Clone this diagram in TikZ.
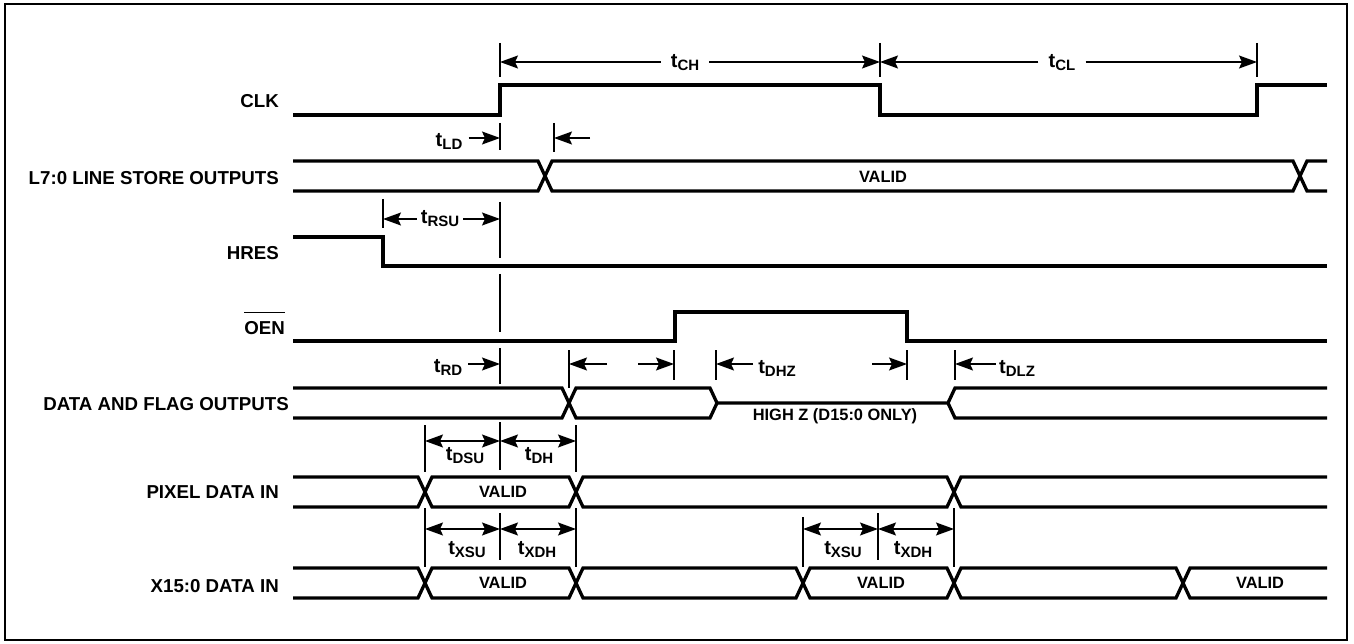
\documentclass[tikz,border=0pt]{standalone}
\usepackage{fontspec}
\setmainfont{Liberation Sans}
\usetikzlibrary{arrows.meta,positioning,calc}

\newcommand\tsub[1]{t\raisebox{-3pt}{\fontsize{15}{16}\selectfont #1}}
\newcommand\barsig[1]{\setbox0\hbox{#1}\rlap{\rule[\dimexpr\ht0+8pt\relax]{\wd0}{1.3pt}}\box0}

\begin{document}
\begin{tikzpicture}[x=1pt, y=-1pt,
    sig/.style={line width=3.3pt},
    guide/.style={line width=1.2pt},
    dimarr/.style={line width=1.3pt, -{Stealth[length=18pt, width=13pt, inset=3pt]}},
    dimboth/.style={line width=1.3pt, {Stealth[length=18pt, width=13pt, inset=3pt]}-{Stealth[length=18pt, width=13pt, inset=3pt]}},
    signame/.style={font=\fontsize{18.7}{20}\selectfont\bfseries, anchor=base east, inner sep=0pt},
    tlbl/.style={font=\fontsize{20}{22}\selectfont\bfseries, anchor=base, inner xsep=5pt, inner ysep=0pt},
    validtxt/.style={font=\fontsize{16.4}{18}\selectfont\bfseries, inner sep=0pt},
  ]
  \useasboundingbox (0,0) rectangle (1354,644);
  % frame
  \draw[line width=2.8pt] (5,4) rectangle (1347,640);

  % signal names
  \node[signame] (clk) at (279,108) {CLK};
  \node[signame] (lso) at (279,185) {L7:0 LINE STORE OUTPUTS};
  \node[signame] (hres) at (279,260) {HRES};
  \node[signame] (oen) at (285,334) {\barsig{OEN}};
  \node[signame] (dfo) at (289,410) {DATA AND FLAG OUTPUTS};
  \node[signame] (pix) at (279,498) {PIXEL DATA IN};
  \node[signame] (xin) at (279,592) {X15:0 DATA IN};

  % waveforms
  \draw[sig] (293,115) -- (500,115) -- (500,85) -- (880,85) -- (880,115) -- (1257,115) -- (1257,85) -- (1327,85);
  \draw[sig] (293,161) -- (538,161) -- (552,191) -- (1293,191) -- (1307,161) -- (1327,161);
  \draw[sig] (293,191) -- (538,191) -- (552,161) -- (1293,161) -- (1307,191) -- (1327,191);
  \draw[sig] (293,237) -- (383,237) -- (383,266) -- (1327,266);
  \draw[sig] (293,341) -- (675,341) -- (675,312) -- (907,312) -- (907,341) -- (1327,341);
  \draw[sig] (293,388) -- (562,388) -- (576,418) -- (710,418) -- (717,403) -- (948,403) -- (955,388) -- (1327,388);
  \draw[sig] (293,418) -- (562,418) -- (576,388) -- (710,388) -- (717,403);
  \draw[sig] (948,403) -- (955,418) -- (1327,418);
  \draw[sig] (293,477) -- (418,477) -- (432,507) -- (569,507) -- (583,477) -- (947,477) -- (961,507) -- (1327,507);
  \draw[sig] (293,507) -- (418,507) -- (432,477) -- (569,477) -- (583,507) -- (947,507) -- (961,477) -- (1327,477);
  \draw[sig] (293,568) -- (418,568) -- (432,598) -- (569,598) -- (583,568) -- (796,568) -- (810,598) -- (947,598) -- (961,568) -- (1176,568) -- (1190,598) -- (1327,598);
  \draw[sig] (293,598) -- (418,598) -- (432,568) -- (569,568) -- (583,598) -- (796,598) -- (810,568) -- (947,568) -- (961,598) -- (1176,598) -- (1190,568) -- (1327,568);

  % bus texts
  \node[validtxt] (v1) at (883,177) {VALID};
  \node[validtxt] (hiz) at (835,416) {HIGH Z (D15:0 ONLY)};
  \node[validtxt] (v2) at (503,492) {VALID};
  \node[validtxt] (v3) at (503,583) {VALID};
  \node[validtxt] (v4) at (881,583) {VALID};
  \node[validtxt] (v5) at (1260,583) {VALID};

  % clock high / low
  \foreach \x in {500,880,1257} \draw[guide] (\x,43) -- (\x,77);
  \coordinate (ch1) at (500,62);
  \coordinate (ch2) at (880,62);
  \coordinate (cl2) at (1257,62);
  \node[tlbl, inner xsep=10pt] (tch) at (685,68) {\tsub{CH}};
  \node[tlbl, inner xsep=10pt] (tcl) at (1062,68) {\tsub{CL}};
  \draw[dimarr] (tch.west |- ch1) -- (ch1);
  \draw[dimarr] (tch.east |- ch1) -- (ch2);
  \draw[dimarr] (tcl.west |- ch1) -- (ch2);
  \draw[dimarr] (tcl.east |- ch1) -- (cl2);

  % line store delay
  \draw[guide] (500,123) -- (500,150);
  \draw[guide] (554,123) -- (554,152);
  \coordinate (ld1) at (500,138);
  \coordinate (ld2) at (554,138);
  \coordinate (ld3) at (590,138);
  \node[tlbl, inner xsep=6pt] (tld) at (449,147) {\tsub{LD}};
  \draw[dimarr] (tld.east |- ld1) -- (ld1);
  \draw[dimarr] (ld3) -- (ld2);

  % hres setup
  \draw[guide] (383,199) -- (383,228);
  \draw[guide] (500,202) -- (500,258);
  \draw[guide] (500,274) -- (500,332);
  \coordinate (rs1) at (383,219);
  \coordinate (rs2) at (500,219);
  \node[tlbl, inner xsep=4pt] (trsu) at (440,224) {\tsub{RSU}};
  \draw[dimarr] (trsu.west |- rs1) -- (rs1);
  \draw[dimarr] (trsu.east |- rs1) -- (rs2);

  % output delays
  \draw[guide] (500,348) -- (500,384);
  \draw[guide] (569,350) -- (569,388);
  \foreach \x in {674,716,907,955} \draw[guide] (\x,350) -- (\x,380);
  \coordinate (rd1) at (500,364);
  \coordinate (oz1) at (569,364);
  \coordinate (oz1s) at (607,364);
  \coordinate (oz2) at (674,364);
  \coordinate (oz2s) at (638,364);
  \coordinate (hz1) at (716,364);
  \coordinate (hz2) at (907,364);
  \coordinate (hz2s) at (872,364);
  \coordinate (lz1) at (955,364);
  \node[tlbl, inner xsep=6pt] (trd) at (448,372) {\tsub{RD}};
  \node[tlbl] (tdhz) at (777,373) {\tsub{DHZ}};
  \node[tlbl, inner xsep=3pt] (tdlz) at (1017,373) {\tsub{DLZ}};
  \draw[dimarr] (trd.east |- rd1) -- (rd1);
  \draw[dimarr] (oz1s) -- (oz1);
  \draw[dimarr] (oz2s) -- (oz2);
  \draw[dimarr] (tdhz.west |- hz1) -- (hz1);
  \draw[dimarr] (hz2s) -- (hz2);
  \draw[dimarr] (tdlz.west |- lz1) -- (lz1);

  % pixel data setup / hold
  \foreach \x in {425,576} \draw[guide] (\x,425) -- (\x,472);
  \draw[guide] (500,422) -- (500,470);
  \coordinate (ds1) at (425,441);
  \coordinate (ds2) at (500,441);
  \coordinate (ds3) at (576,441);
  \draw[dimboth] (ds1) -- (ds2);
  \draw[dimboth] (ds2) -- (ds3);
  \node[tlbl] (tdsu) at (465,460) {\tsub{DSU}};
  \node[tlbl] (tdh) at (539,460) {\tsub{DH}};

  % x data setup / hold
  \foreach \x in {425,576,954} \draw[guide] (\x,508) -- (\x,567);
  \draw[guide] (803,517) -- (803,567);
  \foreach \x in {500,878} \draw[guide] (\x,513) -- (\x,560);
  \coordinate (xs1) at (425,529);
  \coordinate (xs2) at (500,529);
  \coordinate (xs3) at (576,529);
  \coordinate (xs4) at (803,529);
  \coordinate (xs5) at (878,529);
  \coordinate (xs6) at (954,529);
  \draw[dimboth] (xs1) -- (xs2);
  \draw[dimboth] (xs2) -- (xs3);
  \draw[dimboth] (xs4) -- (xs5);
  \draw[dimboth] (xs5) -- (xs6);
  \node[tlbl] (txsu1) at (467,554) {\tsub{XSU}};
  \node[tlbl] (txdh1) at (537,554) {\tsub{XDH}};
  \node[tlbl] (txsu2) at (843,554) {\tsub{XSU}};
  \node[tlbl] (txdh2) at (913,554) {\tsub{XDH}};
\end{tikzpicture}
\end{document}
